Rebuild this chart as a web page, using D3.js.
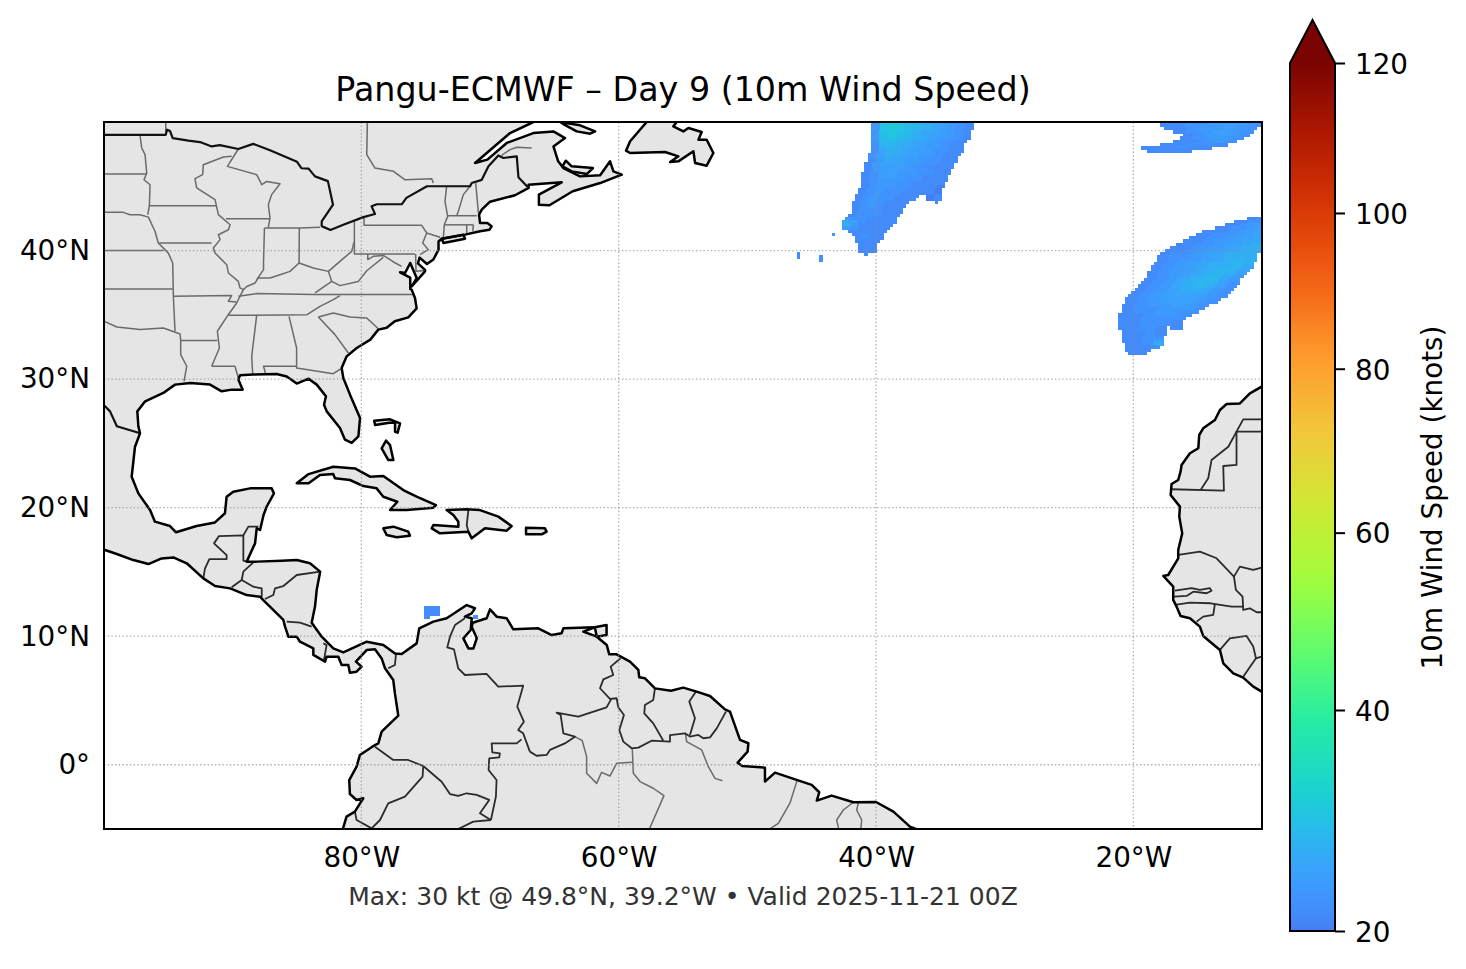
<!DOCTYPE html>
<html lang="en">
<head>
<meta charset="UTF-8">
<script src="https://d3js.org/d3.v7.min.js"></script>
<title>Pangu-ECMWF Day 9</title>
<style>
body { margin: 0; background: #fff; }
text { font-family: "DejaVu Sans", sans-serif; fill: #000; }
</style>
</head>
<body>
<script>

var titleText = "Pangu-ECMWF \u2013 Day 9 (10m Wind Speed)";
var footerText = "Max: 30 kt @ 49.8\u00b0N, 39.2\u00b0W \u2022 Valid 2025-11-21 00Z";
var barLabel = "10m Wind Speed (knots)";

var lonTicks = [-80, -60, -40, -20];
var latTicks = [0, 10, 20, 30, 40];
var speedTicks = [20, 40, 60, 80, 100, 120];

// turbo colour stops
var turboAt = [0.1429, 0.1786, 0.2143, 0.25, 0.2857, 0.357, 0.4286, 0.5, 0.5714, 0.6429, 0.7143, 0.7857, 0.8571, 0.9286, 1];
var turboStops = ["#4675ed","#4290fe","#39a2fc","#2ab9ed","#1bcfd4","#24eca6","#61fc6c","#a4fc3b","#d1e834","#f3c63a","#fe9b2d","#f36315","#d93806","#b11901","#7a0402"];

// land, [lon, lat]
var mainland = [[-101,51],[-66.63,51],[-66.63,50],[-68.44,49.14],[-71.16,46.81],[-70.2,47.07],[-68.7,48.37],[-66.63,49.14],[-65.07,49.27],[-64.17,48.75],[-65.07,48.1],[-64.7,46.94],[-64.3,46.42],[-63,45.77],[-61.44,45.85],[-60.67,46.94],[-60.41,46.16],[-59.76,45.9],[-61.44,45.25],[-63.57,44.61],[-65.38,43.52],[-66.2,43.57],[-66.2,44.35],[-64.43,45.31],[-67,45.12],[-67,44.87],[-68.05,44.3],[-70,43.8],[-70.64,43.18],[-70.85,42.8],[-70.77,42.14],[-70.2,42.14],[-69.87,41.88],[-70.05,41.62],[-70.77,41.5],[-71.94,41.24],[-73.75,40.92],[-74,40.7],[-74,40.07],[-74.4,39.3],[-74.9,38.95],[-75.47,39.45],[-75.6,39],[-75.05,38.5],[-75.05,38.38],[-76.09,37.2],[-75.7,37.86],[-76.2,39.03],[-76.6,38.25],[-76.99,38.31],[-76.2,37.9],[-76.2,37],[-76.09,36.96],[-75.83,36.31],[-75.7,35.5],[-76.35,34.8],[-77.4,34.5],[-78.03,34],[-78.68,33.85],[-79.3,33.07],[-80.36,32.42],[-81.14,31.77],[-81.53,30.86],[-81.4,30.09],[-80.88,28.79],[-80.1,26.97],[-80.23,25.55],[-80.75,25.03],[-81.27,25.29],[-81.66,26.2],[-82.69,27.49],[-82.9,28],[-82.75,28.66],[-83.47,29.57],[-84.1,30.03],[-85.02,29.65],[-85.8,30.2],[-86.58,30.4],[-88.4,30.35],[-89.43,30.3],[-89.56,29.96],[-89.22,29.18],[-90.08,29.18],[-90.85,29.05],[-91.76,29.57],[-93.3,29.7],[-94.48,29.57],[-95.39,28.92],[-96.8,28.27],[-97.41,27.49],[-97.33,26.33],[-97.2,25.78],[-97.59,24.74],[-97.85,22.4],[-97.33,21.11],[-96.42,19.81],[-96.04,18.91],[-94.87,18.57],[-94.4,18.08],[-92.8,18.57],[-91.37,18.85],[-90.6,19.56],[-90.47,20.85],[-89.95,21.24],[-88.65,21.5],[-86.97,21.5],[-86.79,21.11],[-87.36,20.07],[-87.6,19.43],[-87.87,18.26],[-88.13,18.39],[-88.26,17.22],[-88.91,15.8],[-88.13,15.8],[-86.2,15.87],[-85.02,15.92],[-83.99,15.67],[-83.2,15.02],[-83.47,13.59],[-83.6,12.3],[-83.86,11.05],[-83.08,9.96],[-82.18,9.05],[-81.4,8.74],[-79.58,9.57],[-78.29,9.31],[-77.38,8.66],[-76.86,8.61],[-75.7,9.44],[-75.5,10.61],[-74.4,11.13],[-73.37,11.39],[-71.81,12.42],[-71.17,12.17],[-71.42,11.78],[-71.95,11.52],[-71.42,11.39],[-71.5,10.48],[-72.07,9.83],[-71.68,9.05],[-71.29,9.05],[-71.03,9.83],[-71.42,10.74],[-71.34,11.05],[-70.26,11.39],[-70,12.09],[-69.48,11.52],[-68.7,11.39],[-68.19,10.53],[-66.25,10.61],[-65.2,10.09],[-64.44,10.22],[-64.3,10.61],[-61.85,10.69],[-62.75,10.35],[-61.7,9.96],[-60.93,9.32],[-60.73,8.59],[-60.16,8.59],[-59.12,8.02],[-58.47,7.37],[-58.4,6.8],[-57.95,6.72],[-57.18,5.94],[-55.93,5.76],[-54.98,6],[-53.94,5.69],[-52.9,5.35],[-51.74,4.31],[-51.35,4.13],[-50.57,1.93],[-49.92,1.67],[-49.98,1.02],[-50.75,0.16],[-50.39,-0.1],[-48.63,-0.23],[-48.63,-1.31],[-47.85,-0.61],[-46.17,-1.18],[-45,-1.57],[-44.41,-2.14],[-44.6,-2.79],[-43.45,-2.4],[-41.76,-2.92],[-40,-2.9],[-38.65,-3.65],[-37.36,-4.81],[-36.71,-5.07],[-36.7,-6],[-81.4,-6],[-81.4,-4.87],[-81.15,-4.04],[-80.5,-3.65],[-79.85,-2.61],[-80.37,-2.74],[-80.89,-2.28],[-80.94,-1.19],[-80.37,-0.15],[-80.11,0.76],[-78.94,1.53],[-78.68,1.66],[-78.42,2.57],[-77.13,3.82],[-77.39,5.55],[-77.52,6.59],[-78.16,7.5],[-78.42,8.27],[-78.94,8.98],[-79.59,8.92],[-80.42,8.02],[-79.98,7.63],[-80.37,7.24],[-80.89,7.16],[-81.01,7.76],[-81.53,7.76],[-81.79,8.4],[-82.7,8.4],[-82.82,8.02],[-83.73,8.54],[-83.73,9.05],[-84.77,9.57],[-85.02,9.96],[-85.67,9.96],[-85.93,10.74],[-86.06,11.26],[-87.62,12.81],[-87.87,13.07],[-88.91,13.2],[-90.2,13.72],[-91.37,13.9],[-92.28,14.5],[-93.57,15.67],[-94.61,16.13],[-95.52,16.05],[-96.55,15.61],[-97.72,15.92],[-99.01,16.39],[-99.92,16.7],[-101,17]];
var africa = [[-10.03,29.41],[-10.94,28.89],[-11.72,28.11],[-12.75,28.06],[-13.27,27.6],[-13.66,26.82],[-14.57,26.17],[-14.88,25.65],[-14.95,24.62],[-15.6,24.23],[-16.25,23.32],[-16.33,22.8],[-16.51,22.15],[-17.03,21.84],[-17.1,20.98],[-16.38,20.08],[-16.43,19.3],[-16.2,18],[-16.51,16.71],[-16.51,16.06],[-17.29,14.76],[-17.67,14.69],[-16.9,13.86],[-16.9,12.82],[-16.64,12.3],[-16.33,11.57],[-15.6,11.39],[-14.83,10.74],[-14.57,10.02],[-13.27,8.93],[-13.01,7.89],[-12.23,7.11],[-11.46,6.78],[-10.68,6.08],[-10.03,5.69],[-9,5.2],[-9,30],[-10.03,29.41]];
var newfoundland = [[-57.82,50],[-59.11,48.5],[-59.43,47.77],[-59.12,47.59],[-56.39,47.67],[-55.36,47.33],[-56,46.89],[-55.36,46.94],[-54.19,47.72],[-54.06,46.81],[-53.16,46.6],[-52.64,47.59],[-53.16,48.62],[-53.8,48.62],[-53.55,49.22],[-54.58,49.53],[-54.97,49.27],[-55.75,49.66],[-55.49,50],[-55.5,50.5],[-57.8,50.5]];
var anticosti = [[-64.55,50],[-63,49.74],[-61.83,49.27],[-62.22,49.09],[-63.26,49.27],[-64.3,49.84]];
var princeEdward = [[-64.37,46.55],[-64.11,46.99],[-63.65,46.55],[-62,46.42],[-62.48,45.95],[-63.65,46.16]];
var longIsland = [[-73.75,40.92],[-72.07,41.23],[-71.94,40.92],[-73.62,40.59]];
var cuba = [[-85.02,21.89],[-84.1,22.61],[-82.18,23.18],[-80.49,23.05],[-79.33,22.41],[-78.29,22.46],[-76.74,21.37],[-75.7,20.85],[-74.2,20.2],[-74.4,20],[-76.47,19.81],[-77.77,19.81],[-77.2,20.46],[-78.29,20.85],[-78.81,21.5],[-79.84,21.68],[-80.88,22.15],[-82.05,22.28],[-82.18,22.61],[-83.21,22.54],[-84.1,21.89]];
var hispaniola = [[-73.37,19.81],[-71.81,19.87],[-70.78,19.81],[-69.35,19.3],[-68.32,18.57],[-68.7,18.21],[-70.39,18.39],[-71.42,17.61],[-71.68,18.13],[-73.89,18],[-74.53,18.39],[-74.4,18.65],[-72.46,18.52],[-72.46,18.91],[-72.85,19.43]];
var jamaica = [[-78.29,18.39],[-77.51,18.52],[-76.35,18.13],[-76.22,17.82],[-77.25,17.69],[-78.03,17.87]];
var puertoRico = [[-67.2,18.44],[-65.73,18.39],[-65.6,18.13],[-65.98,17.92],[-67.2,17.92]];
var andros = [[-78.42,24.61],[-78.08,25.21],[-77.77,24.87],[-77.51,23.7],[-77.9,23.7]];
var abaco = [[-79,26.76],[-77.77,26.87],[-76.99,26.55],[-77.18,25.83],[-77.38,25.9],[-77.38,26.6],[-77.82,26.6],[-78.93,26.43]];
var trinidad = [[-61.85,10.69],[-60.94,10.87],[-60.94,10.09],[-61.7,9.96]];

// heavy borders drawn like coastline
var usCanada = [[-100,49],[-95.2,49],[-95.1,49.4],[-94.87,49.3],[-94.66,48.75],[-93.44,48.55],[-92.54,48.44],[-91.63,48.1],[-91,48.2],[-89.56,47.9],[-88.4,48.3],[-87.1,47.8],[-85,46.9],[-84.64,46.4],[-84.1,46.37],[-83.6,45.77],[-82.6,45.4],[-82.2,43.57],[-83.08,42.27],[-83.08,41.9],[-82.4,41.6],[-81.4,42],[-79.84,42.6],[-78.94,42.84],[-79.2,43.44],[-78.8,43.6],[-76.86,43.6],[-76.5,44.1],[-74.9,45],[-71.55,45],[-71.42,45.25],[-70.64,45.5],[-70.12,46.55],[-69.35,47.4],[-68.96,47.2],[-67.92,47.33],[-67.79,45.7],[-67,44.87]];
var usMexico = [[-100.3,28.2],[-99.92,27.88],[-99.53,27.49],[-99,26.33],[-97.25,25.81]];

// national borders
var borders = [
  [[-92.28,14.5],[-92.15,15.28],[-91.81,16],[-90.47,16],[-90.47,16.31],[-91.45,17.22],[-91.06,17.79],[-89.17,17.84],[-89.17,15.87],[-88.91,15.8]],
  [[-89.17,17.84],[-88.78,18.52],[-88,18.52]],
  [[-88.39,15.74],[-89.17,15.02],[-89.3,14.37],[-90.08,13.8]],
  [[-89.3,14.37],[-88.39,13.85],[-87.74,13.72],[-87.74,13.07]],
  [[-87.49,12.89],[-86.84,13.2],[-86.71,13.72],[-86.06,13.9],[-85.02,14.76],[-83.2,15.02]],
  [[-85.8,11.13],[-84.77,11.05],[-83.86,10.74]],
  [[-82.95,9.44],[-82.7,9.31],[-82.9,8.15]],
  [[-77.31,8.59],[-77.39,7.76],[-77.91,7.5]],
  [[-71.68,19.81],[-71.81,18.65],[-71.68,18.13]],
  [[-71.95,11.39],[-72.72,10.87],[-73.11,9.96],[-73.32,9.13],[-72.8,8.97],[-72.47,7.5],[-71.95,6.98],[-70.27,7.06],[-69.36,6.07],[-67.42,6.15],[-67.88,4.52],[-67.37,3.35],[-67.81,2.7],[-67.42,2.44],[-66.9,1.02]],
  [[-67.55,1.97],[-67.93,1.66],[-69.87,1.66],[-69.82,0.96],[-69.23,0.88],[-69.28,0.57],[-70.06,0.5],[-70.11,-0.41],[-69.49,-1.19],[-69.54,-2.48],[-69.93,-4.3]],
  [[-69.93,-4.3],[-70.78,-3.78],[-70.06,-2.74],[-71.04,-2.35],[-71.82,-2.22],[-72.47,-2.43],[-73.11,-2.28],[-73.76,-1.32],[-75.19,-0.1]],
  [[-78.94,1.4],[-77.52,0.37],[-76.36,0.37],[-75.19,-0.1]],
  [[-75.19,-0.1],[-75.24,-0.93],[-76.61,-2.48],[-77.91,-3],[-78.55,-4.3],[-79.2,-4.95],[-80.37,-4.3],[-80.5,-3.65]],
  [[-69.93,-4.3],[-71.3,-4.43],[-72.47,-5]],
  [[-66.9,1.02],[-66.38,0.7],[-65.6,0.76],[-65.34,1.15],[-64.18,1.66],[-63.4,2.18],[-64.3,2.44],[-64.51,3.87],[-64.82,4.05],[-63.14,3.74],[-60.94,4.46],[-60.55,5.16]],
  [[-59.85,8.28],[-60.62,7.63],[-60.42,6.98],[-61.19,6.64],[-61.45,5.95],[-60.68,5.12],[-60.16,5.17],[-60.03,4.47],[-59.59,3.87],[-59.95,2.7],[-59.64,1.8],[-58.99,1.28],[-58.47,1.33],[-57.44,1.87],[-56.01,1.8],[-56.01,2.31],[-54.85,2.44],[-54.46,2.19],[-53.81,2.32],[-53.42,2.06],[-52.9,2.13],[-52.38,2.83],[-51.66,4.13]],
  [[-57.18,5.94],[-57.31,5.04],[-57.96,4.65],[-58.01,4],[-57.31,3.22],[-56.53,1.87]],
  [[-53.99,5.69],[-54.51,4.91],[-54.07,3.61],[-54.46,2.32]],
  [[-10.03,26.87],[-11.46,26.87],[-11.98,25.91],[-10.03,25.91]],
  [[-11.98,25.91],[-11.98,23.32],[-13.01,23.24],[-12.96,21.32],[-17.03,21.43]],
  [[-11.98,25.91],[-12.62,24.74],[-13.92,23.71],[-14.18,22.28],[-14.77,21.37]],
  [[-16.51,16.32],[-14.82,16.58],[-13.53,16.06],[-12.18,14.63],[-11.72,15.41],[-10.68,15.15],[-10.03,15.33]],
  [[-12.18,14.63],[-12.03,13.6],[-11.51,13.08],[-11.46,12.04],[-10.94,12.17],[-10.42,11.86],[-10.03,11.86]],
  [[-16.77,13.54],[-15.47,13.73],[-14.83,13.6],[-14.05,13.73],[-13.92,13.54],[-14.3,13.34],[-15.34,13.46],[-15.86,13.13],[-16.85,13.08]],
  [[-16.77,12.43],[-15.6,12.61],[-14,12.56],[-12.36,12.3],[-11.46,12.3]],
  [[-13.66,12.51],[-13.79,11.65],[-14.57,11.52],[-15.08,11.13]],
  [[-13.27,8.93],[-12.5,9.83],[-11.2,10.02],[-10.68,9.19],[-10.47,8.28],[-10.03,8.41]],
  [[-10.47,8.28],[-11.46,6.85]]
];

// state and province lines
var stateLines = [
  [[-95.2,50.5],[-95.2,49]],
  [[-79.53,50],[-79.58,47.46],[-78.94,46.42],[-77.5,46.16],[-76.6,45.5],[-74.53,45.58],[-74.4,45.25]],
  [[-69.1,47.4],[-68.44,47.85],[-67.92,48.03],[-66.76,47.98]],
  [[-97.2,48.96],[-97.07,47.98],[-96.81,47.46],[-96.68,46.03],[-96.89,45.51],[-96.42,45.12],[-96.47,43.52],[-96.6,42.8]],
  [[-100,45.95],[-96.68,45.95]],
  [[-100,42.97],[-98.5,42.97],[-97.98,42.79],[-97.2,42.79],[-96.55,42.6],[-96.04,41.5],[-95.78,40.59],[-95,39.8],[-94.66,39.03],[-94.61,36.44]],
  [[-96.47,43.49],[-91.24,43.49]],
  [[-89.56,47.9],[-90.41,46.55],[-88.13,45.9],[-87.74,45.12],[-87.36,45.38],[-86.32,45.2],[-86.97,44.35],[-87.23,43.57],[-87.1,42.53],[-87.23,41.81]],
  [[-90.08,47.33],[-90.72,47.28],[-92.28,46.68],[-92.33,45.9],[-92.93,45.59],[-92.8,44.87],[-91.37,43.96],[-91.11,42.79],[-90.2,42.01],[-90.33,41.62],[-91.11,41.23],[-90.98,40.85],[-91.5,40.2],[-91.37,39.81],[-90.46,38.9],[-90.33,38.25],[-89.56,37.6],[-89.43,37.09],[-89.17,36.96],[-89.69,35.92],[-90.34,35.01],[-91.19,33.72],[-91.03,32.42],[-91.63,31]],
  [[-90.52,42.48],[-87.1,42.48]],
  [[-95.7,40.59],[-91.63,40.59]],
  [[-87.53,41.75],[-87.6,39.16],[-87.6,38.51],[-88.13,37.73]],
  [[-89.17,36.96],[-88.9,37.2],[-88.26,37.48],[-88,37.87],[-87.1,37.87],[-86.32,38.12],[-85.54,38.38],[-84.84,39.03],[-83.73,38.64],[-82.56,38.38],[-81.66,39.16],[-80.75,39.94],[-80.57,40.66]],
  [[-84.82,41.75],[-84.84,39.03]],
  [[-87.53,41.75],[-84.82,41.75],[-83.21,41.81]],
  [[-82.56,38.38],[-82.3,37.6],[-83.6,36.7]],
  [[-89.56,36.44],[-88.13,36.65],[-83.73,36.58],[-75.96,36.58]],
  [[-90.34,34.96],[-84.25,35],[-83.21,35.66],[-82.17,36.18],[-81.66,36.5]],
  [[-83.34,34.83],[-82.18,35.14],[-80.88,34.83],[-79.58,34.75],[-78.68,33.92]],
  [[-83.34,34.83],[-82.05,33.46],[-81.01,32.03]],
  [[-85.62,34.88],[-85.03,32.42],[-85.03,30.86],[-82.18,30.42],[-81.6,30.8]],
  [[-87.43,30.4],[-87.6,31],[-85.03,31]],
  [[-88.13,35],[-88.52,31.77],[-88.44,30.35]],
  [[-91.63,31],[-89.82,31],[-89.56,30.09]],
  [[-94.04,33],[-91.19,33]],
  [[-94.61,36.44],[-90.08,36.5],[-90.34,36.05],[-89.69,36]],
  [[-100,40],[-95.39,40]],
  [[-100,37],[-94.66,37]],
  [[-94.61,36.44],[-94.48,33.72]],
  [[-100,34.5],[-99,34.05],[-97.2,33.85],[-95.39,33.98],[-94.09,33.51],[-94.04,33],[-94.04,31.9],[-93.57,31],[-93.78,29.83]],
  [[-79.79,42.53],[-79.79,41.96],[-75.31,41.96],[-74.92,41.37],[-73.88,41.03]],
  [[-80.54,42.27],[-80.54,39.73],[-75.83,39.73]],
  [[-74.92,41.37],[-75.23,40.59],[-74.8,40.07],[-75.44,39.68]],
  [[-73.37,45],[-73.5,43.83],[-73.29,42.66],[-73.55,42],[-73.63,40.98]],
  [[-71.55,45],[-72.07,44.35],[-72.46,43.05],[-72.59,42.71]],
  [[-71.11,45.25],[-70.9,42.92]],
  [[-73.29,42.71],[-71.03,42.71]],
  [[-73.55,42],[-71.29,42]],
  [[-71.81,42],[-71.81,41.36]],
  [[-71.29,42],[-71.34,41.5]],
  [[-75.78,39.73],[-75.75,38.38],[-75.05,38.44]],
  [[-79.5,39.73],[-79.5,39.3],[-79.07,39.55],[-78.29,39.62],[-77.5,39.11],[-76.87,38.77]],
  [[-78.29,39.47],[-79.58,38.43],[-80.23,37.6],[-81.66,37.27],[-82.3,37.6]],
  [[-63.4,2.18],[-62.83,1.87],[-62.49,0.63],[-62.49,-0.67],[-61.71,-1.45],[-61.33,-0.59],[-60.68,-0.88],[-60.16,0.11],[-58.94,0.19]],
  [[-54.8,2.39],[-54.72,1.8],[-53.55,1.15],[-53.03,-0.15],[-52.51,-1.06],[-51.94,-1.24]],
  [[-58.94,1.2],[-58.86,-0.67],[-58.34,-1.31],[-57.31,-1.83],[-56.48,-2.4],[-57.62,-5.02]],
  [[-46.12,-1.18],[-46.69,-2.99],[-47.59,-4.56],[-48.37,-5.07]],
  [[-41.76,-2.92],[-42.54,-3.52],[-43.06,-4.3],[-42.88,-5.07]],
  [[-41.37,-2.95],[-41.5,-3.52],[-41.11,-4.3],[-41.19,-5.07]],
  [[-37.75,-5.07],[-37.23,-4.87]]
];

// wind rows: [lat, west edge, east edge, speeds in knots across the row]
var windNorth = [
  [50,-40.39,-32.38,[23,29,30,29,28,27,26,25,24,23,22,21]],
  [49.75,-40.39,-32.38,[23,29,30,29,28,27,26,25,24,23,22,21]],
  [49.5,-40.39,-32.38,[23,29,30,29,28,27,26,25,24,23,22,21]],
  [49.25,-40.39,-32.62,[23,29,30,29,28,26,25,25,24,23,22,21]],
  [49,-40.39,-32.62,[23,28,29,28,27,26,25,24,24,23,22,21]],
  [48.75,-40.39,-32.62,[23,28,29,28,27,26,25,24,23,23,22,21]],
  [48.5,-40.39,-32.93,[23,27,28,27,26,25,25,24,23,22,21,21]],
  [48.25,-40.39,-33.16,[22,27,27,26,26,25,24,23,23,22,21,21]],
  [48,-40.39,-33.16,[22,26,27,26,25,25,24,23,23,22,21,21]],
  [47.75,-40.39,-33.16,[22,25,26,26,25,24,24,23,22,22,21,21]],
  [47.5,-40.62,-33.39,[22,24,26,25,25,24,23,23,22,21,21]],
  [47.25,-40.62,-33.63,[22,24,25,25,24,24,23,23,22,21,21]],
  [47,-40.62,-33.63,[21,23,25,25,24,23,23,22,22,21,21]],
  [46.75,-40.93,-33.94,[21,23,25,24,24,23,23,22,22,21,21]],
  [46.5,-40.93,-33.94,[21,23,24,24,24,23,22,22,21,21,21]],
  [46.25,-40.93,-34.17,[21,23,24,24,23,23,22,22,21,21]],
  [46,-41.16,-34.17,[21,22,24,24,23,23,22,22,21,21]],
  [45.75,-41.16,-34.4,[21,22,24,24,23,22,22,21,21,21]],
  [45.5,-41.16,-34.4,[21,22,23,23,23,22,22,21,21,21]],
  [45.25,-41.16,-34.64,[21,22,23,23,22,22,21,21,21,21]],
  [45,-41.16,-34.64,[21,22,23,23,22,22,21,21,21,20]],
  [44.75,-41.4,-34.87,[21,22,23,22,22,22,21,21,21,20]],
  [44.5,-41.4,-34.87,[21,22,23,22,22,21,21,21,21,20]],
  [44.25,-41.63,-36.66,[21,22,23,22,22,21,21,21]],
  [44.25,-36.11,-34.87,[20,21]],
  [44,-41.63,-36.89,[21,22,23,22,22,21,21,21]],
  [44,-36.11,-34.87,[20,21]],
  [43.75,-41.86,-37.43,[21,22,23,22,21,21,21]],
  [43.75,-35.41,-35.18,[21]],
  [43.5,-41.86,-37.67,[21,22,23,22,21,21,21]],
  [43.25,-41.86,-37.9,[21,22,22,22,21,21,21]],
  [43,-41.86,-37.9,[21,22,22,22,21,21,21]],
  [42.75,-42.17,-38.13,[21,22,22,22,21,21,21]],
  [42.5,-42.41,-38.37,[23,22,22,21,21,21,21]],
  [42.25,-42.64,-38.37,[25,24,22,21,21,21,21]],
  [42,-42.64,-38.68,[26,23,21,21,21,21]],
  [41.75,-42.64,-38.91,[23,22,21,21,21,21]],
  [41.5,-42.17,-39.14,[21,21,21,21,21]],
  [41.25,-41.86,-39.38,[21,22,21,21]],
  [41.25,-43.42,-43.19,[23]],
  [41,-41.63,-39.38,[21,22,21,21]],
  [40.75,-41.63,-39.69,[21,21,21]],
  [40.5,-41.4,-39.95,[21,21,21]],
  [40.25,-41.4,-39.95,[21,21,21]],
  [40,-41.4,-39.95,[21,21,21]],
  [39.75,-40.93,-40.62,[21]],
  [39.75,-46.11,-45.9,[21]],
  [39.5,-46.11,-45.9,[21]],
  [39.5,-44.43,-44.12,[22]],
  [39.25,-44.43,-44.12,[22]]
];
var windEast = [
  [42.5,-11.17,-10,[21,21,22]],
  [42.25,-12.18,-10,[21,21,22,22]],
  [42,-12.87,-10,[21,21,22,23,23]],
  [41.75,-13.65,-10,[21,21,22,22,23,24]],
  [41.5,-14.66,-10,[21,21,21,22,23,24,24]],
  [41.25,-15.13,-10,[21,21,22,22,23,23,24,25]],
  [41,-15.67,-10,[21,21,22,22,23,24,24,25]],
  [40.75,-16.14,-10,[21,21,22,23,23,24,25,25]],
  [40.5,-16.68,-10,[21,21,22,22,23,24,24,25,26]],
  [40.25,-17.15,-10,[21,21,22,23,23,24,25,26,26]],
  [40,-17.55,-10,[21,21,22,23,24,24,25,26,26]],
  [39.75,-17.93,-10.39,[21,22,22,23,24,25,26,26,26]],
  [39.5,-18.16,-10.39,[21,22,22,23,24,25,26,26,26]],
  [39.25,-18.16,-10.39,[21,22,23,23,24,25,26,27,26]],
  [39,-18.39,-10.62,[21,22,23,24,25,26,26,27,26]],
  [38.75,-18.63,-10.62,[21,22,23,24,25,26,26,27,25]],
  [38.5,-18.63,-10.93,[21,22,23,24,25,26,27,27,25]],
  [38.25,-18.94,-11.17,[21,22,23,24,25,26,27,26,24]],
  [38,-18.94,-11.4,[21,22,23,24,26,27,27,25,23]],
  [37.75,-19.17,-11.71,[21,22,23,25,26,27,27,25,23]],
  [37.5,-19.4,-11.71,[21,22,23,25,26,27,27,24,22]],
  [37.25,-19.64,-11.94,[21,22,23,25,26,27,26,24,22]],
  [37,-19.87,-12.18,[21,22,23,24,26,26,25,23,22]],
  [36.75,-20.18,-12.41,[21,22,23,24,25,25,25,23,22]],
  [36.5,-20.41,-12.64,[21,22,23,24,25,25,24,23,22]],
  [36.25,-20.65,-13.19,[21,22,23,24,24,24,23,22]],
  [36,-20.65,-13.42,[21,22,23,24,24,24,23,22]],
  [35.75,-20.88,-14.12,[21,22,23,23,24,23,22]],
  [35.5,-20.88,-14.43,[21,22,22,23,23,23,22]],
  [35.25,-20.88,-14.9,[21,22,22,23,23,22,22]],
  [35,-21.19,-15.44,[21,21,22,23,23,22]],
  [34.75,-21.19,-15.9,[21,21,22,22,22,22]],
  [34.5,-21.19,-16.14,[21,21,22,22,22,21]],
  [34.25,-21.19,-16.14,[21,21,22,22,22,21]],
  [34,-21.19,-17.38,[21,21,22,22,21]],
  [34,-17.15,-16.14,[21,21]],
  [33.75,-20.88,-17.38,[21,21,22,21]],
  [33.5,-20.88,-17.38,[21,21,22,21]],
  [33.25,-20.88,-17.62,[21,21,22,22]],
  [33,-20.88,-17.62,[21,21,22,24]],
  [32.75,-20.65,-17.62,[21,21,22,26]],
  [32.5,-20.65,-17.93,[21,21,21,22]],
  [32.25,-20.65,-18.63,[21,21,21]],
  [32,-20.41,-18.94,[21,21]]
];
var windTop = [
  [50,-17.93,-10,[21,21,22,22,23,23,23,22]],
  [49.75,-17.93,-10,[21,21,22,23,23,24,23,22]],
  [49.5,-17.62,-10.41,[21,21,22,23,23,24,23,22]],
  [49.25,-16.92,-10.67,[21,22,23,24,23,22]],
  [49,-16.14,-10.93,[21,22,23,24,23,22]],
  [48.75,-16.37,-11.4,[21,22,23,23,22]],
  [48.5,-16.92,-11.94,[21,21,22,23,22]],
  [48.25,-17.93,-12.64,[21,21,22,22,21]],
  [48,-19.4,-13.89,[21,21,21,22,21,21]],
  [47.75,-18.94,-15.44,[21,21,21,21]]
];
var windCaribbean = [
  [12.25,-75.13,-73.89,[21]],
  [12,-75.13,-73.89,[21]],
  [11.75,-75.13,-73.89,[21]],
  [11.5,-75.13,-74.67,[21]],
  [11.5,-71.3,-70.94,[22]]
];

var width = 1466,
    height = 969,
    map = {left: 104, right: 1262, top: 122, bottom: 829},
    bar = {left: 1290, right: 1335, top: 63, bottom: 931};

var x = d3.scaleLinear().domain([-100, -10]).range([map.left, map.right]);
var y = d3.scaleLinear().domain([-5, 50]).range([map.bottom, map.top]);

// colour bar runs on a power norm over 20-120 kt
var barScale = d3.scalePow().exponent(0.85).domain([0, 100]).range([bar.bottom, bar.top]);
var norm = d3.scalePow().exponent(0.85).domain([0, 100]).range([0, 1]);
var turboRamp = d3.scaleLinear().domain(turboAt).range(turboStops);
var turboStart = 0.155;
function turbo(f) { return turboRamp(turboStart + (1 - turboStart) * f); }
function speedColor(v) { return turbo(norm(v - 20)); }

var svg = d3.select("body").append("svg")
    .attr("width", width)
    .attr("height", height)
    .style("display", "block");

var defs = svg.append("defs");
defs.append("clipPath").attr("id", "map-clip").append("rect")
    .attr("x", map.left).attr("y", map.top)
    .attr("width", map.right - map.left).attr("height", map.bottom - map.top);

var grad = defs.append("linearGradient").attr("id", "turbo-bar")
    .attr("x1", 0).attr("x2", 0).attr("y1", 1).attr("y2", 0);
grad.selectAll("stop").data(d3.range(0, 1.001, 0.02)).enter().append("stop")
    .attr("offset", function(d) { return d; })
    .attr("stop-color", function(d) { return turbo(d); });

var line = d3.line().x(function(d) { return x(d[0]); }).y(function(d) { return y(d[1]); });
var g = svg.append("g").attr("clip-path", "url(#map-clip)");

// land
var islands = [africa, newfoundland, anticosti, princeEdward, longIsland, cuba, hispaniola, jamaica, puertoRico, andros, abaco, trinidad];
var landShapes = [mainland].concat(islands);
g.selectAll("path.land").data(landShapes).enter().append("path")
    .attr("class", "land")
    .attr("d", function(d) { return line(d) + "Z"; })
    .attr("fill", "#e5e5e5");

// wind cells
var windRows = windNorth.concat(windEast, windTop, windCaribbean);
var cells = [];
windRows.forEach(function(r) {
  var step = (r[2] - r[1]) / r[3].length;
  r[3].forEach(function(v, i) {
    cells.push({lat: r[0], west: r[1] + i * step, east: r[1] + (i + 1) * step, v: v});
  });
});
g.selectAll("rect.wind").data(cells).enter().append("rect")
    .attr("class", "wind")
    .attr("x", function(d) { return x(d.west); })
    .attr("y", function(d) { return y(d.lat + 0.125); })
    .attr("width", function(d) { return x(d.east) - x(d.west) + 0.4; })
    .attr("height", function(d) { return y(d.lat - 0.125) - y(d.lat + 0.125) + 0.4; })
    .attr("fill", function(d) { return speedColor(d.v); })
    .attr("shape-rendering", "crispEdges");

// state lines, borders, coast
g.selectAll("path.state").data(stateLines).enter().append("path")
    .attr("class", "state")
    .attr("d", line)
    .attr("fill", "none")
    .attr("stroke", "#6a6a6a")
    .attr("stroke-width", 1.5)
    .attr("stroke-linejoin", "round");

g.selectAll("path.border").data(borders).enter().append("path")
    .attr("class", "border")
    .attr("d", line)
    .attr("fill", "none")
    .attr("stroke", "#2b2b2b")
    .attr("stroke-width", 1.8)
    .attr("stroke-linejoin", "round");

g.selectAll("path.coast").data(landShapes).enter().append("path")
    .attr("class", "coast")
    .attr("d", function(d) { return line(d) + "Z"; })
    .attr("fill", "none")
    .attr("stroke", "#000")
    .attr("stroke-width", 2.5)
    .attr("stroke-linejoin", "round");

g.selectAll("path.heavy").data([usCanada, usMexico]).enter().append("path")
    .attr("class", "heavy")
    .attr("d", line)
    .attr("fill", "none")
    .attr("stroke", "#111")
    .attr("stroke-width", 2.2)
    .attr("stroke-linejoin", "round");

// gridlines sit over everything
var gridStyle = function(sel) {
  sel.attr("stroke", "#8c8c8c")
     .attr("stroke-opacity", 0.7)
     .attr("stroke-width", 1.3)
     .attr("stroke-dasharray", "1.4,2.3");
};
g.selectAll("line.lon").data(lonTicks).enter().append("line")
    .attr("class", "lon")
    .attr("x1", x).attr("x2", x)
    .attr("y1", map.top).attr("y2", map.bottom)
    .call(gridStyle);
g.selectAll("line.lat").data(latTicks).enter().append("line")
    .attr("class", "lat")
    .attr("y1", y).attr("y2", y)
    .attr("x1", map.left).attr("x2", map.right)
    .call(gridStyle);

svg.append("rect")
    .attr("x", map.left).attr("y", map.top)
    .attr("width", map.right - map.left).attr("height", map.bottom - map.top)
    .attr("fill", "none").attr("stroke", "#000").attr("stroke-width", 2);

// axis labels
var xAxis = d3.axisBottom(x).tickValues(lonTicks).tickSize(0).tickPadding(18)
    .tickFormat(function(d) { return Math.abs(d) + "\u00b0W"; });
var yAxis = d3.axisLeft(y).tickValues(latTicks).tickSize(0).tickPadding(14)
    .tickFormat(function(d) { return d === 0 ? "0\u00b0" : d + "\u00b0N"; });

var gx = svg.append("g").attr("transform", "translate(0," + map.bottom + ")").call(xAxis);
var gy = svg.append("g").attr("transform", "translate(" + map.left + ",0)").call(yAxis);
gx.select(".domain").remove();
gy.select(".domain").remove();
svg.selectAll("g.tick text").style("font-size", "27.8px").style("font-family", "DejaVu Sans");

svg.append("text").attr("x", 683).attr("y", 100.5)
    .attr("text-anchor", "middle").style("font-size", "33.3px")
    .text(titleText);
svg.append("text").attr("x", 683).attr("y", 905)
    .attr("text-anchor", "middle").style("font-size", "25px").style("fill", "#333")
    .text(footerText);

// colour bar
svg.append("rect")
    .attr("x", bar.left).attr("y", bar.top)
    .attr("width", bar.right - bar.left).attr("height", bar.bottom - bar.top)
    .attr("fill", "url(#turbo-bar)");
var arrowTip = [(bar.left + bar.right) / 2, 20];
svg.append("path")
    .attr("d", d3.line()([[bar.left, bar.top], arrowTip, [bar.right, bar.top]]) + "Z")
    .attr("fill", turbo(1));
svg.append("path")
    .attr("d", d3.line()([[bar.left, bar.bottom], [bar.left, bar.top], arrowTip, [bar.right, bar.top], [bar.right, bar.bottom]]) + "Z")
    .attr("fill", "none").attr("stroke", "#000").attr("stroke-width", 2);

var barAxis = d3.axisRight(barScale)
    .tickValues(speedTicks.map(function(v) { return v - 20; }))
    .tickSize(10).tickPadding(10)
    .tickFormat(function(d) { return d + 20; });
var gb = svg.append("g").attr("transform", "translate(" + bar.right + ",0)").call(barAxis);
gb.select(".domain").remove();
gb.selectAll("line").attr("stroke", "#000").attr("stroke-width", 2);
gb.selectAll("text").attr("dy", "0.37em").style("font-size", "27.8px").style("font-family", "DejaVu Sans");

svg.append("text")
    .attr("transform", "translate(1442,497.5) rotate(-90)")
    .attr("text-anchor", "middle")
    .style("font-size", "27.8px")
    .text(barLabel);

</script>
</body>
</html>
